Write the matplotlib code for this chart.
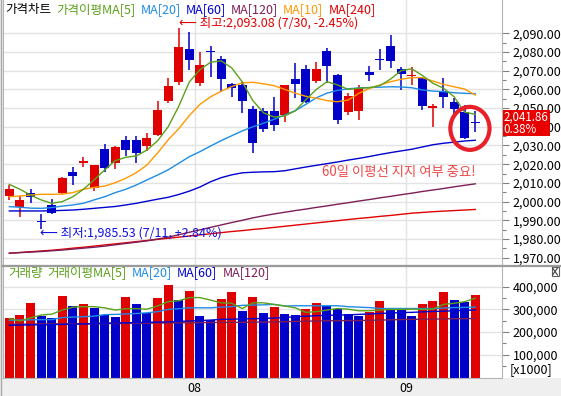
import matplotlib
matplotlib.use("Agg")
import matplotlib.pyplot as plt
import matplotlib.transforms as mtransforms
from matplotlib.lines import Line2D
from matplotlib.patches import Ellipse, Rectangle
from matplotlib.ticker import FixedLocator, FuncFormatter
import numpy as np
import pandas as pd


W, H = 561, 396
DPI = 100

UP = "#e00000"
DOWN = "#0000c8"
C_MA5 = "#5ba11a"
C_MA10 = "#ff9900"
C_MA20 = "#1e8ce6"
C_MA60 = "#0000d0"
C_MA120 = "#7d1e56"
C_MA240 = "#e00000"

# trading days 2014-07-08 .. 2014-09-12 (8/15, Chuseok closed)
trade_days = pd.bdate_range("2014-07-08", "2014-09-12")
holidays = pd.to_datetime(["2014-08-15", "2014-09-08", "2014-09-09", "2014-09-10"])
dates = trade_days.difference(holidays)

opens = [2003.2, 1997.1, 2004.4, 1989.6, 1998.2, 2004.6, 2016.0, 2020.5, 2007.1, 2028.1,
         2020.8, 2032.9, 2032.9, 2029.9, 2035.8, 2053.8, 2063.8, 2081.6, 2063.6, 2080.4,
         2076.3, 2062.9, 2062.5, 2049.5, 2048.6, 2048.6, 2046.3, 2065.6, 2070.9, 2064.6,
         2080.5, 2067.7, 2048.1, 2048.4, 2069.5, 2076.0, 2083.4, 2071.1, 2067.1, 2066.3,
         2050.0, 2059.1, 2053.1, 2047.7, 2042.2]
highs = [2008.9, 2003.0, 2006.7, 1993.4, 2001.2, 2013.0, 2018.7, 2024.0, 2019.8, 2030.8,
         2029.5, 2035.2, 2035.0, 2036.5, 2053.8, 2066.0, 2093.08, 2090.9, 2079.8, 2083.4,
         2077.9, 2063.6, 2064.1, 2051.1, 2049.9, 2055.8, 2062.6, 2074.0, 2073.0, 2074.5,
         2082.0, 2068.2, 2057.9, 2062.4, 2072.5, 2081.6, 2089.1, 2072.1, 2072.1, 2066.5,
         2052.0, 2066.0, 2055.6, 2051.7, 2048.4]
lows = [2000.9, 1992.0, 1999.4, 1985.53, 1993.4, 2004.3, 2008.7, 2018.7, 2005.8, 2016.0,
        2017.6, 2024.5, 2020.8, 2027.2, 2035.0, 2052.9, 2062.4, 2070.4, 2062.0, 2066.8,
        2058.6, 2055.8, 2047.5, 2026.1, 2037.4, 2037.6, 2042.7, 2055.6, 2052.7, 2063.3,
        2063.3, 2041.5, 2046.3, 2043.6, 2064.5, 2070.4, 2071.3, 2059.7, 2062.4, 2049.0,
        2040.0, 2049.9, 2045.9, 2033.5, 2037.0]
closes = [2006.6, 2000.9, 2002.6, 1989.2, 1993.8, 2012.6, 2013.5, 2021.7, 2019.6, 2018.1,
          2029.2, 2027.6, 2026.1, 2033.9, 2049.0, 2061.8, 2082.5, 2075.7, 2073.0, 2080.0,
          2065.7, 2060.6, 2053.9, 2031.2, 2039.0, 2041.0, 2062.4, 2062.9, 2053.1, 2070.9,
          2072.7, 2043.6, 2056.5, 2060.9, 2067.7, 2075.5, 2075.2, 2068.4, 2067.5, 2051.3,
          2051.0, 2056.1, 2049.5, 2034.1, 2041.86]

ma5 = [2009.2, 2006.6, 2003.5, 2000.9, 1999.1, 2000.0, 2002.6, 2006.6, 2011.6, 2016.9,
       2021.9, 2023.7, 2024.4, 2027.6, 2032.5, 2040.0, 2051.0, 2064.0, 2070.5, 2074.5,
       2075.3, 2071.5, 2064.0, 2054.0, 2047.5, 2045.2, 2045.8, 2048.5, 2054.5, 2060.0,
       2064.1, 2062.4, 2060.0, 2060.6, 2060.9, 2062.0, 2065.5, 2070.0, 2071.0, 2067.5,
       2063.3, 2060.6, 2056.1, 2047.8, 2046.7]
ma10 = [2002.6, 2003.0, 2003.5, 2003.9, 2003.9, 2004.0, 2004.8, 2006.6, 2007.6, 2008.3,
        2010.1, 2012.5, 2015.5, 2019.6, 2026.0, 2033.0, 2039.0, 2046.0, 2052.0, 2056.0,
        2059.0, 2061.5, 2063.5, 2063.8, 2063.0, 2062.0, 2060.0, 2058.0, 2056.3, 2055.3,
        2054.0, 2053.4, 2054.3, 2057.9, 2060.5, 2062.4, 2064.1, 2065.4, 2066.3, 2066.3,
        2064.5, 2062.7, 2061.4, 2060.2, 2057.0]
ma20 = [1997.3, 1997.0, 1996.5, 1996.4, 1996.8, 1997.6, 1998.2, 1999.1, 2000.9, 2002.6,
        2004.8, 2006.6, 2008.9, 2011.6, 2014.2, 2017.0, 2020.5, 2024.0, 2026.7, 2029.7,
        2032.6, 2035.2, 2037.8, 2040.0, 2041.9, 2044.0, 2046.3, 2048.6, 2052.0, 2055.5,
        2058.0, 2059.5, 2060.3, 2060.8, 2061.0, 2061.2, 2061.4, 2061.3, 2060.9, 2059.7,
        2059.1, 2058.8, 2058.2, 2057.9, 2057.7]
ma60 = [1995.0, 1995.0, 1995.0, 1995.0, 1995.1, 1995.3, 1995.5, 1995.9, 1996.4, 1996.9,
        1997.4, 1998.2, 1999.1, 2000.2, 2001.3, 2002.3, 2003.8, 2005.6, 2007.8, 2010.6,
        2012.8, 2014.3, 2015.4, 2015.7, 2015.9, 2016.0, 2016.5, 2017.5, 2018.5, 2019.4,
        2020.3, 2021.2, 2022.2, 2023.1, 2024.1, 2025.2, 2026.2, 2027.1, 2028.0, 2029.2,
        2030.4, 2031.2, 2031.8, 2032.4, 2032.8]
ma120 = [1972.4, 1972.7, 1973.0, 1973.3, 1973.7, 1974.1, 1974.6, 1975.1, 1975.6, 1976.2,
         1976.9, 1977.6, 1978.3, 1979.0, 1980.0, 1981.0, 1982.3, 1983.6, 1984.9, 1986.2,
         1987.5, 1988.8, 1990.0, 1991.3, 1992.4, 1993.4, 1994.3, 1995.2, 1996.0, 1996.9,
         1997.7, 1998.6, 1999.4, 2000.3, 2001.1, 2002.0, 2002.8, 2003.7, 2004.5, 2005.4,
         2006.2, 2007.0, 2007.9, 2008.7, 2009.5]
ma240 = [1972.4, 1972.8, 1973.2, 1973.6, 1974.0, 1974.5, 1975.1, 1975.6, 1976.2, 1976.8,
         1977.4, 1978.0, 1978.6, 1979.2, 1979.8, 1980.4, 1981.0, 1981.6, 1982.2, 1982.8,
         1983.4, 1984.0, 1984.5, 1985.1, 1985.6, 1986.2, 1986.8, 1987.4, 1988.0, 1988.6,
         1989.2, 1989.8, 1990.4, 1991.0, 1991.5, 1992.1, 1992.6, 1993.2, 1993.8, 1994.2,
         1994.6, 1994.9, 1995.2, 1995.5, 1995.8]

volume = [261000, 275000, 328000, 273000, 264000, 359000, 315000, 325000, 306000, 276000,
          266000, 355000, 325000, 284000, 350000, 408000, 340000, 381000, 270000, 252000,
          346000, 377000, 292000, 355000, 285000, 310000, 279000, 275000, 301000, 328000,
          316000, 301000, 279000, 270000, 289000, 337000, 304000, 297000, 270000, 325000,
          337000, 377000, 341000, 332000, 365000]
vol_ma5 = [260000, 249000, 263000, 275000, 279000, 297000, 310000, 312000, 312000, 307000,
           297000, 303000, 303000, 301000, 315000, 334000, 338000, 352000, 352000, 341000,
           329000, 327000, 304000, 329000, 329000, 322000, 315000, 307000, 287000, 290000,
           297000, 304000, 301000, 294000, 294000, 297000, 300000, 300000, 301000, 300000,
           301000, 322000, 327000, 334000, 349000]
vol_ma20 = [252000, 253000, 254000, 255000, 255000, 264000, 266000, 268000, 270000, 277000,
            278000, 280000, 282000, 285000, 290000, 300000, 303000, 307000, 307000, 307000,
            310000, 312000, 318000, 319000, 320000, 322000, 315000, 316000, 316000, 316000,
            316000, 316000, 312000, 310000, 308000, 304000, 304000, 304000, 304000, 304000,
            304000, 306000, 308000, 309000, 310000]
vol_ma60 = [230000, 231000, 232000, 232000, 233000, 234000, 235000, 236000, 237000, 239000,
            240000, 241000, 242000, 243000, 244000, 245000, 247000, 249000, 251000, 253000,
            256000, 257000, 258000, 259000, 260000, 262000, 264000, 268000, 270000, 272000,
            274000, 275000, 276000, 278000, 280000, 282000, 284000, 286000, 287000, 289000,
            291000, 292000, 294000, 296000, 297000]
vol_ma120 = [235000, 235000, 235000, 236000, 236000, 236000, 237000, 237000, 237000, 238000,
             238000, 238000, 239000, 239000, 240000, 240000, 241000, 241000, 242000, 242000,
             243000, 243000, 243000, 244000, 244000, 245000, 246000, 247000, 248000, 249000,
             250000, 250000, 251000, 251000, 252000, 253000, 254000, 255000, 256000, 257000,
             257000, 258000, 259000, 259000, 260000]

price_ticks = list(range(1970, 2091, 10))
volume_ticks = [100000, 200000, 300000, 400000]


def fx(px):
    return px / W


def fy(py):
    return 1 - py / H


plt.rcParams["font.family"] = ["Noto Sans CJK KR", "DejaVu Sans"]
plt.rcParams["font.size"] = 9

fig = plt.figure(figsize=(W / DPI, H / DPI), dpi=DPI, facecolor="#efefef")
fig.patches.append(Rectangle((fx(3.3), fy(378)), 1, 378 / H, transform=fig.transFigure,
                             facecolor="white", edgecolor="none", zorder=-10))
fig.add_artist(Line2D([fx(1), fx(1)], [0, 1], color="#a8a8a8", lw=1))

left, right = fx(3.3), fx(501.7)
ax = fig.add_axes([left, fy(265), right - left, 265 / H])
axv = fig.add_axes([left, fy(377.5), right - left, (377.5 - 266.5) / H])

n = len(closes)
x = np.arange(n)
o, h, l, c = map(np.array, (opens, highs, lows, closes))
colors = [UP if cc >= oo else DOWN for oo, cc in zip(o, c)]

# candles
ax.vlines(x, l, h, colors=colors, lw=1.1, zorder=2)
body = np.maximum(np.abs(c - o), 0.6)
ax.bar(x, body, bottom=np.minimum(o, c), width=0.85, color=colors, lw=0, zorder=3)

for vals, col in [(ma240, C_MA240), (ma120, C_MA120), (ma60, C_MA60),
                  (ma20, C_MA20), (ma10, C_MA10), (ma5, C_MA5)]:
    ax.plot(x, vals, color=col, lw=1.0, zorder=4)

# volume
vol = np.array(volume)
vcolors = [UP] + [UP if vol[i] >= vol[i - 1] else DOWN for i in range(1, n)]
axv.bar(x, vol, width=0.85, color=vcolors, lw=0, zorder=2)
for vals, col in [(vol_ma120, C_MA120), (vol_ma60, C_MA60),
                  (vol_ma20, C_MA20), (vol_ma5, C_MA5)]:
    axv.plot(x, vals, color=col, lw=1.0, zorder=3)

# month boundaries
month_starts = [i for i in range(1, n) if dates[i].month != dates[i - 1].month]
bounds = [i - 0.5 for i in month_starts]
month_labels = [f"{dates[i].month:02d}" for i in month_starts]

for a in (ax, axv):
    a.set_xlim(-0.57, 46.5)
    a.set_facecolor("white")
    a.set_xticks(bounds)
    a.grid(True, color="#e3e3e3", lw=1, zorder=0)
    a.set_axisbelow(True)
    a.yaxis.tick_right()
    a.tick_params(axis="x", length=0)
    a.tick_params(axis="y", which="major", direction="out", length=5, width=0.8,
                  color="#808080", pad=3, labelsize=9)
    a.tick_params(axis="y", which="minor", direction="out", length=3, width=0.8,
                  color="#808080")
    a.spines["top"].set_visible(False)
    for s in ("left", "right", "bottom"):
        a.spines[s].set_color("#b4b4b4")

ax.set_ylim(1966.1, 2107.8)
ax.yaxis.set_major_locator(FixedLocator(price_ticks))
ax.yaxis.set_minor_locator(FixedLocator([t + 5 for t in price_ticks[:-1]]))
ax.yaxis.set_major_formatter(FuncFormatter(lambda v, p: f"{v:,.2f}"))
ax.set_xticklabels([])

axv.set_ylim(0, 489000)
axv.yaxis.set_major_locator(FixedLocator(volume_ticks))
axv.yaxis.set_minor_locator(FixedLocator([t + 50000 for t in volume_ticks[:-1]] + [50000]))
axv.yaxis.set_major_formatter(FuncFormatter(lambda v, p: f"{v:,.0f}"))
axv.set_xticklabels(month_labels, fontsize=9)
axv.tick_params(axis="x", pad=3)

# panel separator
fig.add_artist(Line2D([fx(3.3), 1], [fy(265.7), fy(265.7)], color="#9a9a9a", lw=1.6))
fig.text(fx(510), fy(370), "[x1000]", fontsize=9, va="center", ha="left")

# close box icon
fig.add_artist(Rectangle((fx(551.5), fy(276)), 7 / W, 9 / H, transform=fig.transFigure,
                         facecolor="white", edgecolor="#606060", lw=0.8))
fig.add_artist(Line2D([fx(552.5), fx(557.5)], [fy(275), fy(268)], color="#404040", lw=0.8))
fig.add_artist(Line2D([fx(552.5), fx(557.5)], [fy(268), fy(275)], color="#404040", lw=0.8))

# legends
renderer = fig.canvas.get_renderer()


def put_legend(items, x0, y):
    xp = x0
    for label, col in items:
        t = fig.text(fx(xp), fy(y), label, color=col, fontsize=9, va="center", ha="left")
        xp += t.get_window_extent(renderer=renderer).width + 5


put_legend([("가격차트", "black"), ("가격이평MA[5]", C_MA5), ("MA[20]", C_MA20),
            ("MA[60]", C_MA60), ("MA[120]", C_MA120), ("MA[10]", C_MA10),
            ("MA[240]", C_MA240)], 5, 10)
put_legend([("거래량", C_MA5), ("거래이평MA[5]", C_MA5), ("MA[20]", C_MA20),
            ("MA[60]", C_MA60), ("MA[120]", C_MA120)], 8, 273)

# high / low notes
last = c[-1]
i_hi = int(np.argmax(h))
i_lo = int(np.argmin(l))
hi_txt = (f"⟵ 최고:{h[i_hi]:,.2f} ({dates[i_hi].month}/{dates[i_hi].day}, "
          f"{(last / h[i_hi] - 1) * 100:+.2f}%)")
lo_txt = (f"⟵ 최저:{l[i_lo]:,.2f} ({dates[i_lo].month}/{dates[i_lo].day}, "
          f"{(last / l[i_lo] - 1) * 100:+.2f}%)")
ax.annotate(hi_txt, xy=(i_hi, h[i_hi]), xytext=(0.5, 3.4), textcoords="offset points",
            color="#e00000", fontsize=9, va="center", ha="left", zorder=6)
ax.annotate(lo_txt, xy=(i_lo, l[i_lo]), xytext=(-0.5, -3.3), textcoords="offset points",
            color="#1010e0", fontsize=9, va="center", ha="left", zorder=6)

ax.text(29.5, 2015.6, "60일 이평선 지지 여부 중요!", color="#f04848", fontsize=9.6,
        va="center", ha="left", zorder=6)

ax.add_patch(Ellipse((n - 1.5, last - 2.7), 3.7, 23, facecolor="none",
                     edgecolor="#e8202a", lw=3, zorder=7))

# current price tag
blend = mtransforms.blended_transform_factory(ax.transAxes, ax.transData)
ax.add_patch(Rectangle((1.002, last - 7.0), 0.095, 14.0, transform=blend,
                       facecolor="#e80000", edgecolor="none", clip_on=False, zorder=8))
chg = (last / c[-2] - 1) * 100
ax.text(1.004, last + 3.4, f"{last:,.2f}", transform=blend, color="white",
        fontsize=8.3, va="center", ha="left", clip_on=False, zorder=9)
ax.text(1.004, last - 3.5, f"{chg:.2f}%", transform=blend, color="white",
        fontsize=8.3, va="center", ha="left", clip_on=False, zorder=9)

fig.savefig("out.png", dpi=DPI, facecolor=fig.get_facecolor())
